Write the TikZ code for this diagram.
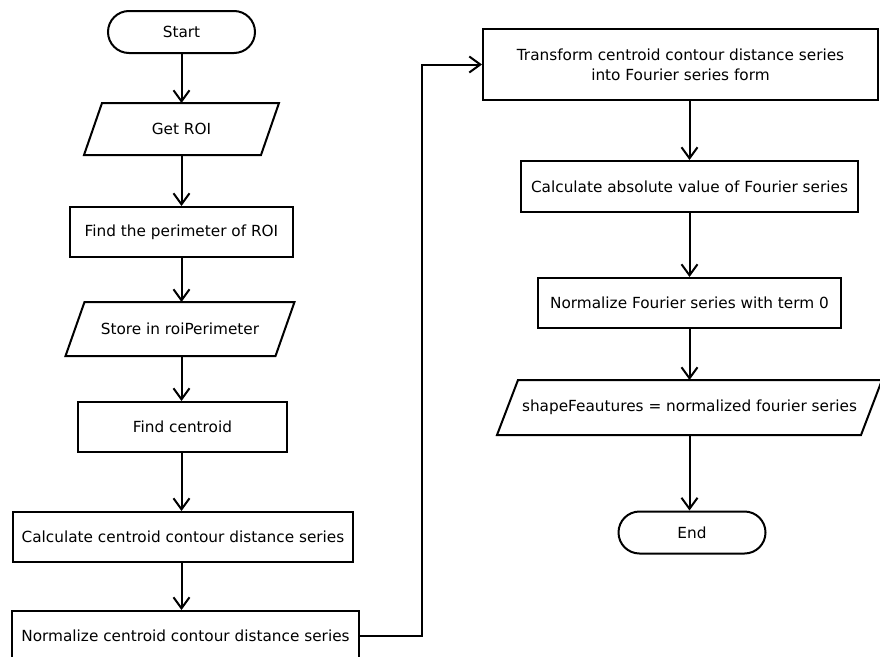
\documentclass[tikz,border=0pt]{standalone}
\usepackage{fontspec}
\setmainfont{DejaVu Sans}
\usetikzlibrary{arrows.meta}
\begin{document}
\begin{tikzpicture}[x=1pt, y=-1pt, line width=2pt,
  every node/.style={font=\fontsize{15.3}{20}\selectfont, align=center, inner sep=0pt},
  proc/.style={draw, rectangle, minimum height=50pt},
  term/.style={draw, rectangle, rounded corners=21pt, minimum width=147pt, minimum height=42pt},
  iobox/.style={rectangle, minimum height=50pt},
  flow/.style={-{Straight Barb[length=11pt, width=16pt]}}]

\fill[white] (0,0) rectangle (880,656);
\useasboundingbox (0,0) rectangle (880,656);

% left column
\node[term] (start) at (181.5,32) {Start};
\node[iobox, minimum width=175pt] (roi) at (181.5,129) {Get ROI};
\node[proc, minimum width=223pt] (perim) at (181.5,232) {Find the perimeter of ROI};
\node[iobox, minimum width=208pt, minimum height=52pt] (store) at (180,329) {Store in roiPerimeter};
\node[proc, minimum width=209pt] (cent) at (182.5,427) {Find centroid};
\node[proc, minimum width=340pt] (calc) at (183,537) {Calculate centroid contour distance series};
\node[proc, minimum width=347pt] (norm) at (185.5,636) {Normalize centroid contour distance series};

% right column
\node[proc, minimum width=395pt, minimum height=71pt] (fourier) at (680.5,64.5)
  {Transform centroid contour distance series\\into Fourier series form};
\node[proc, minimum width=337pt, minimum height=51pt] (absval) at (689.5,186.5)
  {Calculate absolute value of Fourier series};
\node[proc, minimum width=303pt] (normf) at (689.5,303) {Normalize Fourier series with term 0};
\node[iobox, minimum width=362pt, minimum height=53pt] (feat) at (689.5,407.5)
  {shapeFeautures = normalized fourier series};
\node[term] (end) at (692,532.5) {End};

% input/output parallelograms
\foreach \n/\s in {roi/9, store/9.5, feat/10.5}
  \draw ([xshift=\s pt]\n.north west) -- ([xshift=\s pt]\n.north east)
     -- ([xshift=-\s pt]\n.south east) -- ([xshift=-\s pt]\n.south west) -- cycle;

% connectors
\draw[flow] (start.south) -- (start.south |- roi.north);
\draw[flow] (roi.south) -- (roi.south |- perim.north);
\draw[flow] (perim.south) -- (perim.south |- store.north);
\draw[flow] (perim.south |- store.south) -- (perim.south |- cent.north);
\draw[flow] (perim.south |- cent.south) -- (perim.south |- calc.north);
\draw[flow] (perim.south |- calc.south) -- (perim.south |- norm.north);
\draw[flow] (norm.east) -- ++(62,0) |- (fourier.west);
\draw[flow] (absval.north |- fourier.south) -- (absval.north);
\draw[flow] (absval.south) -- (absval.south |- normf.north);
\draw[flow] (absval.south |- normf.south) -- (absval.south |- feat.north);
\draw[flow] (absval.south |- feat.south) -- (absval.south |- end.north);
\end{tikzpicture}
\end{document}
